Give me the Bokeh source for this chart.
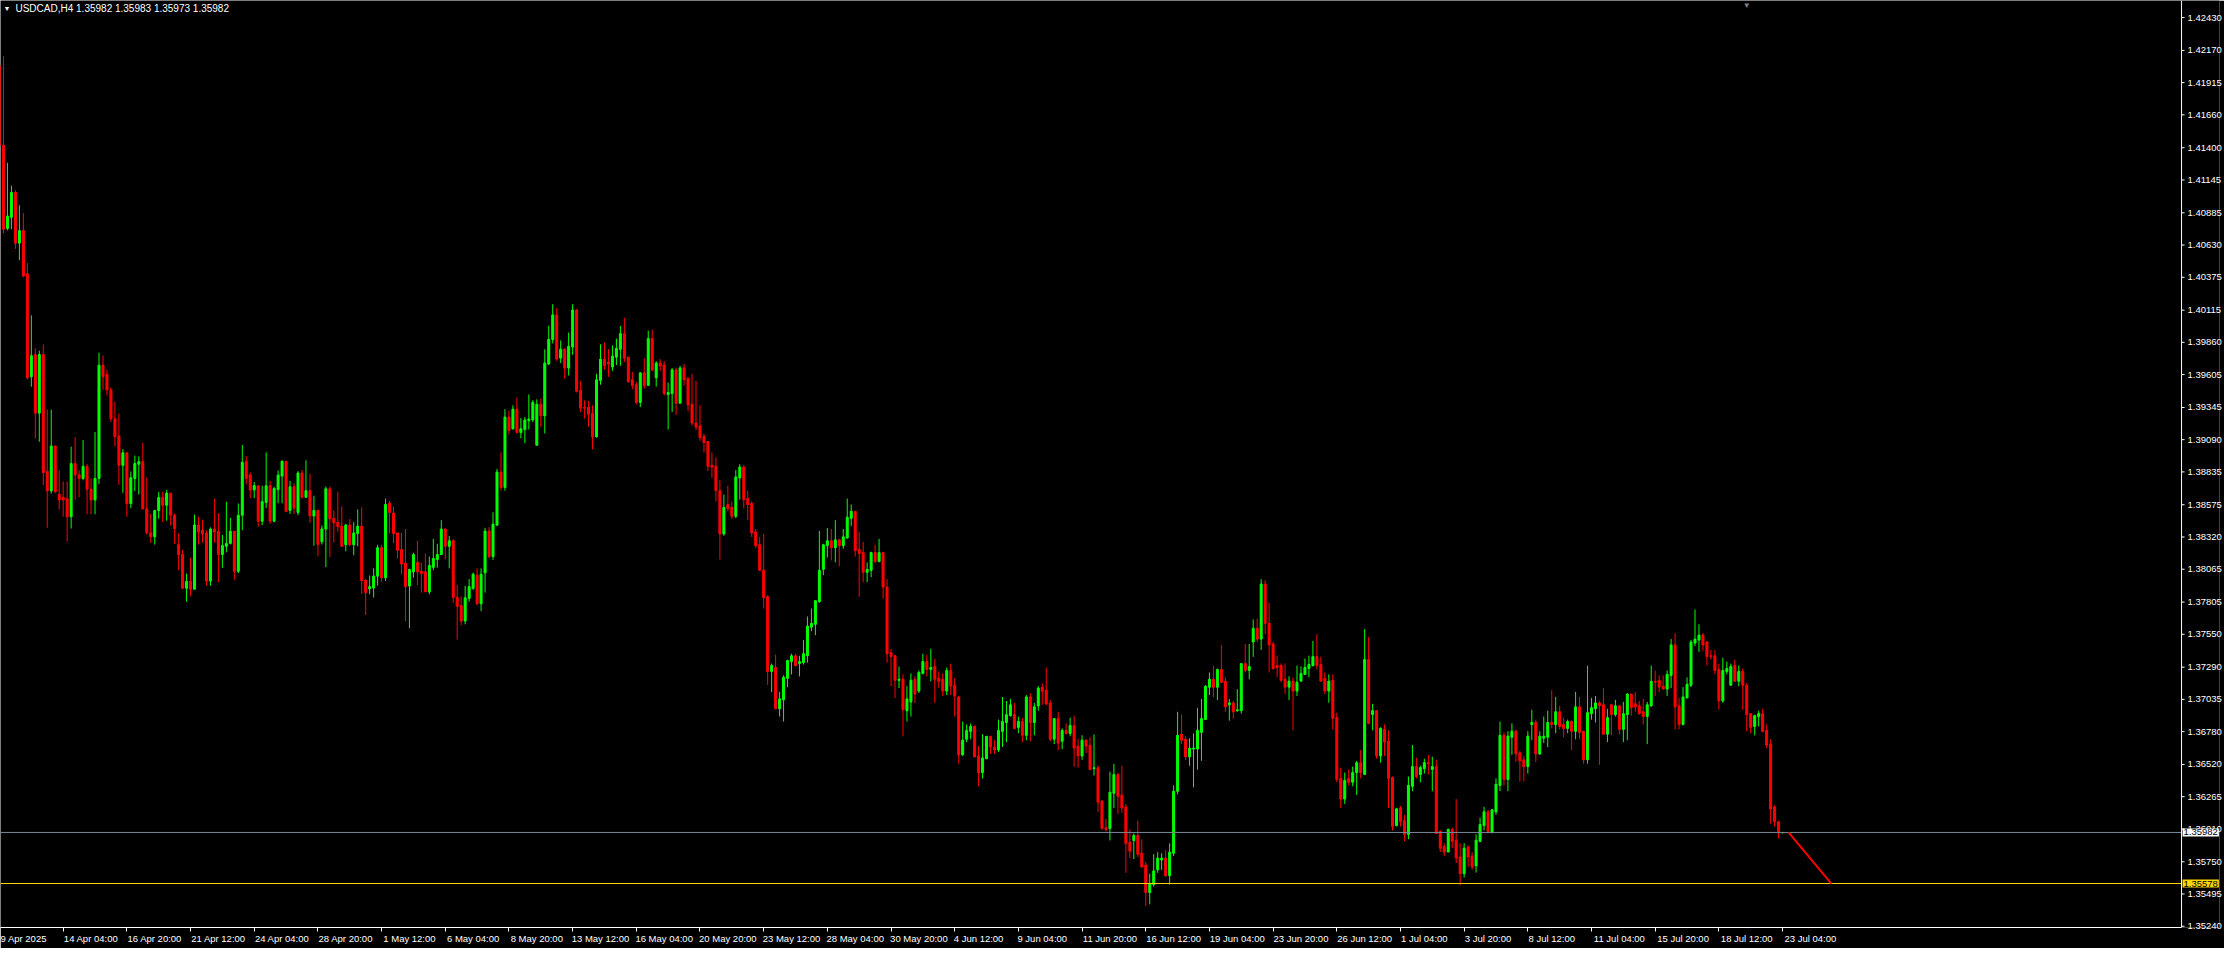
from bokeh.plotting import figure
from bokeh.models import (ColumnDataSource, Range1d, LinearAxis, FixedTicker,
                          PrintfTickFormatter, Span, Label)
from bokeh.embed import file_html
from bokeh.resources import INLINE

symbol = "USDCAD,H4"
first_bar = -1

opens = [
    1.42050, 1.41420, 1.40761, 1.40849, 1.41046, 1.40645, 1.40744, 1.40402, 1.39588, 1.39763, 1.39300, 1.39763, 1.38839,
    1.38684, 1.39040, 1.38656, 1.38633, 1.38622, 1.38480, 1.38901, 1.38811, 1.38783, 1.38879, 1.38698, 1.38613, 1.38783,
    1.39679, 1.39608, 1.39484, 1.39255, 1.39119, 1.38887, 1.38986, 1.38585, 1.38783, 1.38896, 1.38916, 1.38543, 1.38353,
    1.38322, 1.38529, 1.38633, 1.38571, 1.38667, 1.38492, 1.38260, 1.38181, 1.37915, 1.37969, 1.37907, 1.38415, 1.38373,
    1.38350, 1.37972, 1.38382, 1.38365, 1.38181, 1.38246, 1.38269, 1.38365, 1.38048, 1.38492, 1.38916, 1.38811, 1.38692,
    # 64-127
    1.38725, 1.38445, 1.38593, 1.38725, 1.38445, 1.38696, 1.38802, 1.38919, 1.38531, 1.38717, 1.38515, 1.38826, 1.38634,
    1.38686, 1.38486, 1.38531, 1.38282, 1.38383, 1.38701, 1.38468, 1.38437, 1.38406, 1.38259, 1.38414, 1.38259, 1.38347,
    1.38406, 1.37979, 1.37909, 1.37917, 1.38010, 1.38235, 1.37997, 1.38587, 1.38510, 1.38352, 1.38220, 1.38111, 1.37932,
    1.38044, 1.38119, 1.38049, 1.38044, 1.37886, 1.38080, 1.38142, 1.38181, 1.38383, 1.38246, 1.38290, 1.37842, 1.37777,
    1.37655, 1.37834, 1.37914, 1.38018, 1.37792, 1.38036, 1.38367, 1.38165, 1.38414, 1.38834, 1.38712, 1.39269,
    # 128-191
    1.39176, 1.39331, 1.39147, 1.39170, 1.39240, 1.39246, 1.39046, 1.39370, 1.39279, 1.39688, 1.39883, 1.40077, 1.39735,
    1.39805, 1.39657, 1.39823, 1.40116, 1.39479, 1.39347, 1.39347, 1.39300, 1.39113, 1.39559, 1.39727, 1.39704, 1.39665,
    1.39743, 1.39805, 1.39929, 1.39743, 1.39564, 1.39525, 1.39385, 1.39618, 1.39520, 1.39890, 1.39580, 1.39696, 1.39681,
    1.39448, 1.39455, 1.39642, 1.39378, 1.39657, 1.39572, 1.39370, 1.39222, 1.39199, 1.39113, 1.39075, 1.38888, 1.38880,
    1.38686, 1.38344, 1.38577, 1.38554, 1.38484, 1.38787, 1.38873, 1.38624, 1.38585, 1.38360, 1.38259, 1.38057,
    # 192-255
    1.37847, 1.37256, 1.37287, 1.36961, 1.37031, 1.37202, 1.37334, 1.37380, 1.37318, 1.37326, 1.37380, 1.37606, 1.37629,
    1.37808, 1.38064, 1.38251, 1.38290, 1.38235, 1.38297, 1.38251, 1.38313, 1.38468, 1.38523, 1.38220, 1.38196, 1.38041,
    1.38056, 1.38196, 1.38126, 1.38196, 1.37924, 1.37404, 1.37380, 1.37186, 1.37194, 1.36945, 1.37015, 1.37194, 1.37101,
    1.37241, 1.37334, 1.37272, 1.37295, 1.37202, 1.37194, 1.37101, 1.37264, 1.37147, 1.37054, 1.36596, 1.36720, 1.36782,
    1.36821, 1.36588, 1.36456, 1.36565, 1.36743, 1.36658, 1.36635, 1.36782, 1.36852, 1.36906, 1.36914, 1.36813,
    # 256-319
    1.36859, 1.36751, 1.37054, 1.36852, 1.36984, 1.37131, 1.37108, 1.37007, 1.36720, 1.36883, 1.36704, 1.36790, 1.36766,
    1.36828, 1.36665, 1.36588, 1.36712, 1.36673, 1.36487, 1.36494, 1.36230, 1.36020, 1.36013, 1.36292, 1.36440, 1.36277,
    1.36183, 1.35904, 1.35919, 1.35958, 1.35818, 1.35725, 1.35507, 1.35570, 1.35686, 1.35764, 1.35779, 1.35640, 1.35818,
    1.36308, 1.36758, 1.36720, 1.36580, 1.36642, 1.36642, 1.36774, 1.36875, 1.37131, 1.37194, 1.37131, 1.37271, 1.37178,
    1.36992, 1.37007, 1.36945, 1.36945, 1.37318, 1.37264, 1.37489, 1.37598, 1.37512, 1.37947, 1.37636, 1.37473,
    # 320-383
    1.37303, 1.37303, 1.37194, 1.37132, 1.37179, 1.37101, 1.37179, 1.37233, 1.37280, 1.37303, 1.37373, 1.37311, 1.37202,
    1.37101, 1.37187, 1.36891, 1.36410, 1.36246, 1.36410, 1.36379, 1.36456, 1.36534, 1.36441, 1.37350, 1.36915, 1.36946,
    1.36588, 1.36798, 1.36705, 1.36417, 1.36037, 1.36177, 1.36075, 1.35967, 1.36347, 1.36503, 1.36441, 1.36487, 1.36534,
    1.36480, 1.36503, 1.35990, 1.35873, 1.35827, 1.36006, 1.35920, 1.35788, 1.35656, 1.35866, 1.35796, 1.35718, 1.35912,
    1.36037, 1.36145, 1.35982, 1.36145, 1.36355, 1.36751, 1.36402, 1.36736, 1.36783, 1.36612, 1.36557, 1.36503,
    # 384-447
    1.36836, 1.36852, 1.36603, 1.36728, 1.36735, 1.36852, 1.36836, 1.36937, 1.36836, 1.36805, 1.36860, 1.36782, 1.36976,
    1.36782, 1.36557, 1.36922, 1.36961, 1.37007, 1.36992, 1.36759, 1.36992, 1.36914, 1.36984, 1.36798, 1.36914, 1.37077,
    1.37000, 1.36984, 1.36937, 1.36899, 1.36984, 1.37178, 1.37186, 1.37139, 1.37116, 1.37225, 1.37466, 1.36984, 1.36836,
    1.37046, 1.37147, 1.37481, 1.37505, 1.37544, 1.37489, 1.37380, 1.37380, 1.37272, 1.37023, 1.37256, 1.37147, 1.37303,
    1.37178, 1.37256, 1.37147, 1.36922, 1.36821, 1.36899, 1.36922, 1.36790, 1.36681, 1.36184, 1.36067, 1.35982,
]

highs = [
    1.42080, 1.42123, 1.41281, 1.41100, 1.41063, 1.40945, 1.40883, 1.40487, 1.40074, 1.39814, 1.39794, 1.39843, 1.39328,
    1.39328, 1.39040, 1.38848, 1.38760, 1.38760, 1.39034, 1.39111, 1.38848, 1.39088, 1.38896, 1.38783, 1.39150, 1.39778,
    1.39755, 1.39645, 1.39503, 1.39390, 1.39297, 1.39015, 1.38986, 1.38839, 1.38964, 1.38958, 1.39065, 1.38791, 1.38506,
    1.38534, 1.38675, 1.38675, 1.38692, 1.38667, 1.38506, 1.38350, 1.38218, 1.38031, 1.38155, 1.38497, 1.38480, 1.38458,
    1.38373, 1.38396, 1.38622, 1.38509, 1.38336, 1.38599, 1.38472, 1.38365, 1.38585, 1.39048, 1.38958, 1.38831, 1.38755,
    # 64-127
    1.38725, 1.38725, 1.38989, 1.38764, 1.38717, 1.38846, 1.38927, 1.38919, 1.38764, 1.38745, 1.38841, 1.38849, 1.38927,
    1.38818, 1.38647, 1.38536, 1.38411, 1.38720, 1.38720, 1.38531, 1.38678, 1.38562, 1.38424, 1.38461, 1.38437, 1.38538,
    1.38554, 1.37985, 1.38015, 1.38072, 1.38259, 1.38259, 1.38624, 1.38608, 1.38559, 1.38352, 1.38352, 1.38383, 1.38069,
    1.38196, 1.38290, 1.38114, 1.38189, 1.38165, 1.38305, 1.38266, 1.38453, 1.38391, 1.38328, 1.38303, 1.37940, 1.37849,
    1.37932, 1.37987, 1.38038, 1.38072, 1.38072, 1.38393, 1.38398, 1.38515, 1.38859, 1.38989, 1.39331, 1.39320,
    # 128-191
    1.39362, 1.39424, 1.39261, 1.39269, 1.39448, 1.39403, 1.39409, 1.39416, 1.39805, 1.39991, 1.40162, 1.40131, 1.39875,
    1.39813, 1.39937, 1.40162, 1.40124, 1.39556, 1.39401, 1.39396, 1.39362, 1.39611, 1.39844, 1.39859, 1.39805, 1.39836,
    1.39890, 1.39991, 1.40054, 1.39743, 1.39626, 1.39549, 1.39626, 1.39735, 1.39953, 1.39960, 1.39712, 1.39727, 1.39712,
    1.39541, 1.39657, 1.39657, 1.39673, 1.39688, 1.39587, 1.39611, 1.39556, 1.39362, 1.39137, 1.39075, 1.38989, 1.38950,
    1.38772, 1.38655, 1.38725, 1.38601, 1.38849, 1.38896, 1.38888, 1.38686, 1.38601, 1.38383, 1.38321, 1.38344,
    # 192-255
    1.37860, 1.37318, 1.37388, 1.37093, 1.37225, 1.37349, 1.37396, 1.37396, 1.37380, 1.37505, 1.37691, 1.37753, 1.37816,
    1.38367, 1.38266, 1.38391, 1.38383, 1.38453, 1.38305, 1.38383, 1.38624, 1.38577, 1.38523, 1.38359, 1.38282, 1.38119,
    1.38204, 1.38258, 1.38305, 1.38204, 1.37987, 1.37435, 1.37388, 1.37295, 1.37233, 1.37140, 1.37241, 1.37217, 1.37264,
    1.37396, 1.37388, 1.37435, 1.37357, 1.37256, 1.37241, 1.37287, 1.37318, 1.37202, 1.37062, 1.36860, 1.36837, 1.36844,
    1.36829, 1.36666, 1.36759, 1.36743, 1.36743, 1.36712, 1.36875, 1.37054, 1.37023, 1.37039, 1.37007, 1.36899,
    # 256-319
    1.36891, 1.37069, 1.37085, 1.37007, 1.37139, 1.37162, 1.37287, 1.37030, 1.36883, 1.36937, 1.36805, 1.36844, 1.36891,
    1.36906, 1.36720, 1.36751, 1.36720, 1.36735, 1.36758, 1.36510, 1.36238, 1.36090, 1.36463, 1.36525, 1.36455, 1.36510,
    1.36207, 1.36005, 1.35974, 1.36075, 1.35927, 1.35748, 1.35655, 1.35810, 1.35826, 1.35818, 1.35842, 1.35896, 1.36354,
    1.36937, 1.36914, 1.36743, 1.36727, 1.36766, 1.36968, 1.37038, 1.37147, 1.37248, 1.37302, 1.37279, 1.37466, 1.37209,
    1.37038, 1.37023, 1.37116, 1.37318, 1.37473, 1.37473, 1.37668, 1.37675, 1.37986, 1.37978, 1.37800, 1.37489,
    # 320-383
    1.37381, 1.37319, 1.37319, 1.37218, 1.37210, 1.37303, 1.37295, 1.37358, 1.37381, 1.37497, 1.37552, 1.37373, 1.37249,
    1.37233, 1.37233, 1.36930, 1.36495, 1.36456, 1.36480, 1.36503, 1.36549, 1.36635, 1.37591, 1.37528, 1.37000, 1.36946,
    1.36814, 1.36837, 1.36790, 1.36425, 1.36177, 1.36192, 1.36122, 1.36425, 1.36674, 1.36573, 1.36511, 1.36565, 1.36596,
    1.36581, 1.36557, 1.36000, 1.35897, 1.36013, 1.36021, 1.36246, 1.35897, 1.35897, 1.35881, 1.35827, 1.35967, 1.36099,
    1.36184, 1.36161, 1.36169, 1.36410, 1.36860, 1.36775, 1.36783, 1.36845, 1.36798, 1.36627, 1.36588, 1.36783,
    # 384-447
    1.36953, 1.36875, 1.36782, 1.36899, 1.36945, 1.37108, 1.37054, 1.36984, 1.36891, 1.36875, 1.36868, 1.37093, 1.37054,
    1.36782, 1.37303, 1.37046, 1.37062, 1.37023, 1.37124, 1.36961, 1.37000, 1.37031, 1.36992, 1.37015, 1.37085, 1.37077,
    1.37093, 1.37023, 1.37038, 1.37015, 1.37303, 1.37264, 1.37225, 1.37225, 1.37264, 1.37512, 1.37559, 1.37046, 1.37132,
    1.37209, 1.37505, 1.37746, 1.37629, 1.37559, 1.37497, 1.37427, 1.37427, 1.37318, 1.37365, 1.37334, 1.37318, 1.37349,
    1.37303, 1.37279, 1.37163, 1.36922, 1.36914, 1.36945, 1.36961, 1.36836, 1.36720, 1.36199, 1.36075, 1.35983,
]

lows = [
    1.41400, 1.40724, 1.40747, 1.40755, 1.40600, 1.40512, 1.40374, 1.39566, 1.39509, 1.39099, 1.39074, 1.38732, 1.38393,
    1.38664, 1.38670, 1.38537, 1.38480, 1.38283, 1.38387, 1.38613, 1.38633, 1.38769, 1.38500, 1.38500, 1.38500, 1.38740,
    1.39484, 1.39441, 1.39229, 1.39037, 1.38732, 1.38670, 1.38480, 1.38548, 1.38684, 1.38656, 1.38537, 1.38339, 1.38274,
    1.38260, 1.38464, 1.38438, 1.38449, 1.38410, 1.38266, 1.38057, 1.37907, 1.37808, 1.37850, 1.37907, 1.38260, 1.38274,
    1.37935, 1.37935, 1.38274, 1.37963, 1.38076, 1.38198, 1.38260, 1.37983, 1.38034, 1.38373, 1.38740, 1.38627, 1.38627,
    # 64-127
    1.38401, 1.38414, 1.38549, 1.38424, 1.38437, 1.38587, 1.38587, 1.38515, 1.38502, 1.38502, 1.38492, 1.38626, 1.38634,
    1.38432, 1.38251, 1.38168, 1.38261, 1.38082, 1.38160, 1.38277, 1.38362, 1.38246, 1.38207, 1.38246, 1.38176, 1.38246,
    1.37870, 1.37702, 1.37867, 1.37842, 1.37935, 1.37966, 1.37971, 1.38352, 1.38272, 1.38150, 1.38025, 1.37655, 1.37598,
    1.37999, 1.37940, 1.37880, 1.37886, 1.37867, 1.38057, 1.38077, 1.38181, 1.38142, 1.38072, 1.37798, 1.37507, 1.37621,
    1.37629, 1.37810, 1.37901, 1.37779, 1.37733, 1.37880, 1.38152, 1.38139, 1.38406, 1.38686, 1.38686, 1.39131,
    # 128-191
    1.39170, 1.39139, 1.39101, 1.39062, 1.39170, 1.39230, 1.39046, 1.39191, 1.39139, 1.39683, 1.39852, 1.39714, 1.39696,
    1.39572, 1.39598, 1.39761, 1.39463, 1.39308, 1.39256, 1.39191, 1.39015, 1.39106, 1.39525, 1.39644, 1.39587, 1.39634,
    1.39681, 1.39675, 1.39704, 1.39541, 1.39489, 1.39370, 1.39349, 1.39494, 1.39520, 1.39631, 1.39510, 1.39634, 1.39440,
    1.39170, 1.39310, 1.39287, 1.39378, 1.39517, 1.39315, 1.39202, 1.39168, 1.39082, 1.38989, 1.38842, 1.38787, 1.38601,
    1.38142, 1.38329, 1.38523, 1.38461, 1.38469, 1.38616, 1.38546, 1.38453, 1.38321, 1.38235, 1.38049, 1.37754,
    # 192-255
    1.37150, 1.37093, 1.36956, 1.36899, 1.36860, 1.37132, 1.37233, 1.37295, 1.37217, 1.37311, 1.37326, 1.37575, 1.37544,
    1.37800, 1.38018, 1.38157, 1.38134, 1.38119, 1.38088, 1.38227, 1.38305, 1.38406, 1.38165, 1.37847, 1.37963, 1.37963,
    1.38002, 1.38111, 1.38119, 1.37831, 1.37326, 1.37140, 1.37046, 1.37124, 1.36743, 1.36860, 1.36899, 1.37007, 1.37085,
    1.37233, 1.37217, 1.37178, 1.37007, 1.37124, 1.37062, 1.37070, 1.37070, 1.36899, 1.36526, 1.36588, 1.36697, 1.36720,
    1.36580, 1.36347, 1.36409, 1.36565, 1.36603, 1.36603, 1.36619, 1.36658, 1.36697, 1.36899, 1.36798, 1.36767,
    # 256-319
    1.36696, 1.36712, 1.36704, 1.36751, 1.36945, 1.36992, 1.36992, 1.36704, 1.36681, 1.36634, 1.36642, 1.36758, 1.36743,
    1.36502, 1.36494, 1.36556, 1.36611, 1.36479, 1.36432, 1.36145, 1.36005, 1.35989, 1.35919, 1.36176, 1.36129, 1.36137,
    1.35663, 1.35779, 1.35772, 1.35787, 1.35702, 1.35399, 1.35414, 1.35554, 1.35663, 1.35686, 1.35632, 1.35570, 1.35795,
    1.36284, 1.36681, 1.36556, 1.36510, 1.36339, 1.36479, 1.36549, 1.36875, 1.37069, 1.37054, 1.37030, 1.37170, 1.36937,
    1.36867, 1.36883, 1.36937, 1.36922, 1.37248, 1.37194, 1.37372, 1.37489, 1.37427, 1.37551, 1.37248, 1.37271,
    # 320-383
    1.37210, 1.37171, 1.37078, 1.37031, 1.36790, 1.37062, 1.37179, 1.37233, 1.37210, 1.37295, 1.37272, 1.37179, 1.37078,
    1.37008, 1.36798, 1.36379, 1.36177, 1.36208, 1.36355, 1.36347, 1.36278, 1.36410, 1.36441, 1.36837, 1.36790, 1.36565,
    1.36534, 1.36588, 1.36177, 1.35998, 1.36029, 1.36029, 1.35912, 1.35928, 1.36309, 1.36410, 1.36379, 1.36448, 1.36441,
    1.36309, 1.35974, 1.35827, 1.35796, 1.35827, 1.35858, 1.35741, 1.35563, 1.35625, 1.35710, 1.35687, 1.35664, 1.35905,
    1.35998, 1.35974, 1.35974, 1.36122, 1.36309, 1.36355, 1.36309, 1.36596, 1.36542, 1.36386, 1.36386, 1.36448,
    # 384-447
    1.36712, 1.36541, 1.36596, 1.36689, 1.36658, 1.36805, 1.36767, 1.36798, 1.36735, 1.36767, 1.36634, 1.36720, 1.36720,
    1.36526, 1.36526, 1.36875, 1.36852, 1.36518, 1.36759, 1.36697, 1.36751, 1.36899, 1.36759, 1.36697, 1.36712, 1.36906,
    1.36937, 1.36914, 1.36836, 1.36681, 1.36976, 1.37062, 1.37093, 1.37116, 1.37062, 1.37124, 1.36798, 1.36798, 1.36829,
    1.37046, 1.37132, 1.37458, 1.37411, 1.37419, 1.37303, 1.37349, 1.37233, 1.36953, 1.37007, 1.37233, 1.37147, 1.37178,
    1.37139, 1.36953, 1.36782, 1.36767, 1.36751, 1.36821, 1.36774, 1.36650, 1.36052, 1.36028, 1.35935, 1.35973,
]

closes = [
    1.41420, 1.40755, 1.40860, 1.41046, 1.40645, 1.40744, 1.40385, 1.39580, 1.39755, 1.39300, 1.39763, 1.38831, 1.38684,
    1.39040, 1.38678, 1.38613, 1.38613, 1.38480, 1.38901, 1.38811, 1.38783, 1.38879, 1.38698, 1.38613, 1.38783, 1.39679,
    1.39588, 1.39484, 1.39255, 1.39114, 1.38887, 1.38986, 1.38585, 1.38789, 1.38901, 1.38916, 1.38543, 1.38353, 1.38322,
    1.38529, 1.38633, 1.38571, 1.38667, 1.38492, 1.38387, 1.38181, 1.37915, 1.37969, 1.37907, 1.38415, 1.38359, 1.38345,
    1.37972, 1.38382, 1.38359, 1.38181, 1.38252, 1.38269, 1.38365, 1.38048, 1.38492, 1.38910, 1.38783, 1.38692, 1.38726,
    # 64-127
    1.38445, 1.38600, 1.38725, 1.38445, 1.38704, 1.38810, 1.38919, 1.38523, 1.38717, 1.38549, 1.38826, 1.38634, 1.38686,
    1.38486, 1.38531, 1.38261, 1.38383, 1.38701, 1.38463, 1.38432, 1.38401, 1.38246, 1.38414, 1.38259, 1.38352, 1.38406,
    1.37974, 1.37880, 1.37927, 1.38010, 1.38235, 1.37997, 1.38577, 1.38515, 1.38347, 1.38215, 1.38106, 1.37927, 1.38062,
    1.38181, 1.38044, 1.38031, 1.37886, 1.38095, 1.38150, 1.38181, 1.38383, 1.38246, 1.38290, 1.37842, 1.37772, 1.37655,
    1.37839, 1.37927, 1.38025, 1.37792, 1.38025, 1.38367, 1.38165, 1.38422, 1.38834, 1.38712, 1.39269, 1.39162,
    # 128-191
    1.39331, 1.39147, 1.39176, 1.39246, 1.39253, 1.39385, 1.39370, 1.39279, 1.39696, 1.39883, 1.40077, 1.39727, 1.39805,
    1.39657, 1.39828, 1.40116, 1.39473, 1.39339, 1.39339, 1.39292, 1.39113, 1.39564, 1.39727, 1.39675, 1.39688, 1.39751,
    1.39813, 1.39929, 1.39735, 1.39549, 1.39520, 1.39385, 1.39618, 1.39520, 1.39890, 1.39642, 1.39696, 1.39673, 1.39455,
    1.39463, 1.39642, 1.39378, 1.39657, 1.39564, 1.39365, 1.39222, 1.39191, 1.39106, 1.39067, 1.38880, 1.38873, 1.38686,
    1.38344, 1.38554, 1.38546, 1.38484, 1.38795, 1.38873, 1.38616, 1.38577, 1.38352, 1.38251, 1.38057, 1.37839,
    # 192-255
    1.37256, 1.37303, 1.36961, 1.37039, 1.37210, 1.37342, 1.37380, 1.37303, 1.37334, 1.37396, 1.37614, 1.37637, 1.37816,
    1.38056, 1.38258, 1.38290, 1.38235, 1.38297, 1.38251, 1.38321, 1.38476, 1.38523, 1.38212, 1.38189, 1.38041, 1.38064,
    1.38196, 1.38126, 1.38196, 1.37924, 1.37396, 1.37373, 1.37186, 1.37194, 1.36953, 1.37039, 1.37186, 1.37077, 1.37248,
    1.37334, 1.37272, 1.37287, 1.37194, 1.37178, 1.37101, 1.37264, 1.37140, 1.37062, 1.36596, 1.36712, 1.36790, 1.36821,
    1.36580, 1.36456, 1.36572, 1.36743, 1.36658, 1.36635, 1.36790, 1.36860, 1.36914, 1.36992, 1.36805, 1.36860,
    # 256-319
    1.36751, 1.37054, 1.36852, 1.36976, 1.37124, 1.37100, 1.36999, 1.36720, 1.36883, 1.36689, 1.36790, 1.36766, 1.36828,
    1.36650, 1.36588, 1.36712, 1.36665, 1.36479, 1.36494, 1.36222, 1.36013, 1.36005, 1.36300, 1.36440, 1.36269, 1.36176,
    1.35896, 1.35834, 1.35958, 1.35810, 1.35710, 1.35507, 1.35577, 1.35678, 1.35779, 1.35779, 1.35640, 1.35826, 1.36308,
    1.36751, 1.36712, 1.36580, 1.36650, 1.36650, 1.36790, 1.36883, 1.37139, 1.37194, 1.37131, 1.37271, 1.37170, 1.36976,
    1.37007, 1.36937, 1.36953, 1.37318, 1.37264, 1.37295, 1.37598, 1.37512, 1.37947, 1.37636, 1.37466, 1.37279,
    # 320-383
    1.37288, 1.37187, 1.37132, 1.37179, 1.37101, 1.37171, 1.37241, 1.37288, 1.37311, 1.37373, 1.37303, 1.37179, 1.37101,
    1.37179, 1.36884, 1.36402, 1.36246, 1.36394, 1.36379, 1.36456, 1.36534, 1.36456, 1.37350, 1.36845, 1.36946, 1.36588,
    1.36806, 1.36697, 1.36410, 1.36029, 1.36169, 1.36068, 1.35967, 1.36355, 1.36503, 1.36425, 1.36495, 1.36534, 1.36526,
    1.36503, 1.35974, 1.35858, 1.35827, 1.36006, 1.35912, 1.35780, 1.35656, 1.35858, 1.35788, 1.35710, 1.35920, 1.36044,
    1.36145, 1.35990, 1.36161, 1.36363, 1.36751, 1.36402, 1.36744, 1.36783, 1.36604, 1.36549, 1.36503, 1.36744,
    # 384-447
    1.36852, 1.36603, 1.36743, 1.36743, 1.36852, 1.36836, 1.36937, 1.36821, 1.36805, 1.36860, 1.36782, 1.36976, 1.36774,
    1.36557, 1.36930, 1.36969, 1.37007, 1.36984, 1.36759, 1.36891, 1.36914, 1.36984, 1.36798, 1.36922, 1.37077, 1.36969,
    1.36976, 1.36922, 1.36899, 1.36992, 1.37178, 1.37171, 1.37132, 1.37116, 1.37233, 1.37466, 1.36976, 1.36836, 1.37054,
    1.37155, 1.37489, 1.37512, 1.37544, 1.37466, 1.37373, 1.37373, 1.37264, 1.37023, 1.37264, 1.37279, 1.37295, 1.37178,
    1.37256, 1.37147, 1.36914, 1.36813, 1.36906, 1.36922, 1.36782, 1.36673, 1.36168, 1.36067, 1.35987, 1.35982,
]

time_labels = [
    "9 Apr 2025", "14 Apr 04:00", "16 Apr 20:00", "21 Apr 12:00", "24 Apr 04:00", "28 Apr 20:00",
    "1 May 12:00", "6 May 04:00", "8 May 20:00", "13 May 12:00", "16 May 04:00", "20 May 20:00",
    "23 May 12:00", "28 May 04:00", "30 May 20:00", "4 Jun 12:00", "9 Jun 04:00", "11 Jun 20:00",
    "16 Jun 12:00", "19 Jun 04:00", "23 Jun 20:00", "26 Jun 12:00", "1 Jul 04:00", "3 Jul 20:00",
    "8 Jul 12:00", "11 Jul 04:00", "15 Jul 20:00", "18 Jul 12:00", "23 Jul 04:00",
]
bars_per_label = 16

price_ticks = [
    1.42430, 1.42170, 1.41915, 1.41660, 1.41400, 1.41145, 1.40885, 1.40630, 1.40375, 1.40115,
    1.39860, 1.39605, 1.39345, 1.39090, 1.38835, 1.38575, 1.38320, 1.38065, 1.37805, 1.37550,
    1.37290, 1.37035, 1.36780, 1.36520, 1.36265, 1.36010, 1.35750, 1.35495, 1.35240,
]

bid_price = 1.35982
level_price = 1.35578
trend_bars = [448.5, 459.25]
trend_prices = [1.35982, 1.35578]
last_ohlc = [1.35982, 1.35983, 1.35973, 1.35982]
shift_bar = 438

# ---------------- layout ----------------
# The frame spans the whole width; the price scale strip (axis line, tick marks, price boxes)
# sits at its right end, and the real y-axis labels are pulled into that strip.
W, H = 2224, 948
RB, BB = 2, 21
FW, FH = W - RB, H - BB
CHART_W = 2184                      # width of the candle area in px
X0 = -0.75
X_AX = 547.25                       # bar coordinate of the price-scale line
PPB = CHART_W / (X_AX - X0)
X1 = X0 + FW / PPB
Y0, Y1 = 1.35230, 1.42565
BULL, BEAR = "#00FF00", "#FF0000"
FONT = "Liberation Sans"
YFS = "9.5px"


def dx(px):
    return px / PPB


def dy(px):
    return px * (Y1 - Y0) / FH


n = min(len(opens), len(highs), len(lows), len(closes))
xs = [first_bar + i for i in range(n)]
src = ColumnDataSource(dict(
    x=xs,
    h=highs[:n],
    l=lows[:n],
    top=[max(opens[i], closes[i]) for i in range(n)],
    bot=[min(opens[i], closes[i]) for i in range(n)],
    col=[BULL if closes[i] >= opens[i] else BEAR for i in range(n)],
))

p = figure(width=W, height=H, output_backend="svg", toolbar_location=None,
           x_range=Range1d(X0, X1), y_range=Range1d(Y0, Y1),
           x_axis_location=None, y_axis_location=None,
           background_fill_color="black", border_fill_color="black",
           outline_line_color=None, min_border_left=0, min_border_top=0,
           min_border_right=RB, min_border_bottom=BB)
for g in p.grid:
    g.visible = False

p.segment(x0="x", y0="l", x1="x", y1="h", line_color="col", line_width=1, source=src)
p.vbar(x="x", width=0.5, top="top", bottom="bot", fill_color="col",
       line_color="col", line_width=1, source=src)

# horizontal price lines across the candle area
p.segment(x0=[X0, X0], y0=[bid_price, level_price], x1=[X_AX, X_AX], y1=[bid_price, level_price],
          line_color=["#778899", "#FFD700"], line_width=1)
p.line(trend_bars, trend_prices, line_color="#FF0000", line_width=2)

# price scale line and tick marks
p.add_layout(Span(location=X_AX, dimension="height", line_color="white", line_width=1))
p.segment(x0=[X_AX] * len(price_ticks), y0=price_ticks,
          x1=[X_AX + dx(3)] * len(price_ticks), y1=price_ticks, line_color="white", line_width=1)

# real y axis providing the price labels (labels pulled left into the strip)
yax = LinearAxis(ticker=FixedTicker(ticks=price_ticks), formatter=PrintfTickFormatter(format="%.5f"),
                 axis_line_color=None, major_tick_line_color=None, minor_tick_line_color=None,
                 major_tick_in=0, major_tick_out=0,
                 major_label_standoff=-int(round(FW - CHART_W - 6)),
                 major_label_text_color="white", major_label_text_font=FONT,
                 major_label_text_font_size=YFS)
p.add_layout(yax, "right")

# bottom time axis: line and tick marks
label_bars = [first_bar + bars_per_label * k for k in range(len(time_labels))]
xax = LinearAxis(ticker=FixedTicker(ticks=label_bars), bounds=(X0, X_AX), axis_line_color="white",
                 major_tick_line_color="white", minor_tick_line_color=None,
                 major_tick_in=0, major_tick_out=4, major_label_standoff=0,
                 major_label_text_font_size="0px",
                 major_label_overrides={b: "" for b in label_bars})
p.add_layout(xax, "below")

# bottom time axis: labels, left-aligned to their tick as in the terminal
CW = {" ": 0.278, ":": 0.278, "A": 0.667, "M": 0.833, "J": 0.5, "p": 0.556, "r": 0.333,
      "a": 0.556, "y": 0.5, "u": 0.556, "n": 0.556, "l": 0.222}
XFS = 9.5
label_pos, overrides = [], {}
for b, t in zip(label_bars, time_labels):
    wpx = sum(CW.get(ch, 0.556) for ch in t) * XFS
    pos = b + int(round((1 + wpx / 2) / PPB))
    label_pos.append(pos)
    overrides[pos] = t
lax = LinearAxis(ticker=FixedTicker(ticks=label_pos), major_label_overrides=overrides,
                 axis_line_color=None, major_tick_line_color=None, minor_tick_line_color=None,
                 major_tick_in=0, major_tick_out=0, major_label_standoff=1,
                 major_label_text_color="white", major_label_text_font=FONT,
                 major_label_text_font_size=f"{XFS}px")
p.add_layout(lax, "below")

# price boxes on the scale
for price, bg in [(bid_price, "white"), (level_price, "#FFD700")]:
    p.add_layout(Label(x=X_AX, y=price, x_offset=1, text=f"{price:.5f}", text_color="black",
                       text_font=FONT, text_font_size=YFS, text_baseline="middle",
                       text_align="left", background_fill_color=bg, padding=1))

# header
p.add_layout(Label(x=X0 + dx(3), y=Y1 - dy(8), text="\u25BC", text_color="white",
                   text_font_size="7px", text_baseline="middle"))
header = symbol + "  " + " ".join(f"{v:.5f}" for v in last_ohlc)
p.add_layout(Label(x=X0 + dx(15), y=Y1 - dy(8), text=header, text_color="white",
                   text_font=FONT, text_font_size="10px", text_baseline="middle"))
p.add_layout(Label(x=shift_bar, y=Y1, text="\u25BC", text_color="#808080",
                   text_font_size="8px", text_baseline="top", text_align="center"))

open("out.html", "w").write(file_html(p, INLINE, "USDCAD,H4"))
